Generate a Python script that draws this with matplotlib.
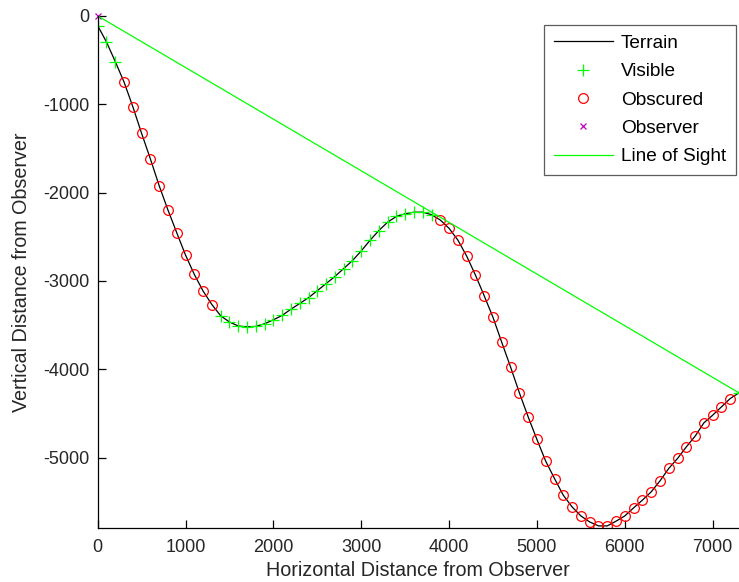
import numpy as np
import matplotlib
matplotlib.use('Agg')
import matplotlib.pyplot as plt

# Terrain profile sampled every 100 m from the observer
distance = list(range(0, 7400, 100))
elevation = [
    -110, -296, -517, -749, -1028, -1330, -1620, -1923, -2198, -2455,
    -2708, -2927, -3115, -3268, -3395, -3465, -3510, -3520, -3515, -3485,
    -3440, -3390, -3320, -3255, -3190, -3110, -3030, -2950, -2860, -2770,
    -2660, -2540, -2430, -2335, -2270, -2240, -2222, -2222, -2250, -2311,
    -2405, -2538, -2719, -2934, -3169, -3413, -3697, -3975, -4267, -4539,
    -4795, -5041, -5237, -5426, -5558, -5660, -5728, -5773, -5773, -5720,
    -5660, -5569, -5482, -5388, -5264, -5123, -5010, -4879, -4758, -4607,
    -4520, -4426, -4331, -4267,
]

# 1 = visible from the observer, 0 = obscured
visible = ([1, 1, 1] + [0] * 11 + [1] * 25 + [0] * 34 + [1])

observer = (0, 0)
target_index = len(distance) - 1

x_ticks = [0, 1000, 2000, 3000, 4000, 5000, 6000, 7000]
y_ticks = [0, -1000, -2000, -3000, -4000, -5000]


def make_plot():
    plt.rcParams['font.family'] = ['Liberation Sans', 'DejaVu Sans']
    plt.rcParams['axes.unicode_minus'] = False

    x = np.array(distance)
    y = np.array(elevation)
    vis = np.array(visible, dtype=bool)

    fig = plt.figure(figsize=(7.39, 5.82), dpi=100)
    ax = fig.add_axes([0.1322, 0.0923, 0.8678, 0.8804])

    ax.plot(x, y, color='k', lw=0.9, label='Terrain')
    ax.plot(x[vis], y[vis], ls='none', marker='+', color=(0, 1, 0),
            ms=8, mew=0.9, label='Visible', clip_on=True)
    ax.plot(x[~vis], y[~vis], ls='none', marker='o', mfc='none', mec='r',
            ms=7, mew=0.9, label='Obscured')
    ax.plot([observer[0]], [observer[1]], ls='none', marker='x', color='m',
            ms=5, mew=0.9, label='Observer', clip_on=False)
    ax.plot([observer[0], x[target_index]], [observer[1], y[target_index]],
            color=(0, 1, 0), lw=0.9, label='Line of Sight')

    ax.set_xlim(0, 7300)
    ax.set_ylim(-5800, 0)
    ax.set_xticks(x_ticks)
    ax.set_yticks(y_ticks)

    for side in ['top', 'right']:
        ax.spines[side].set_visible(False)
    for side in ['left', 'bottom']:
        ax.spines[side].set_linewidth(0.9)
    ax.tick_params(direction='in', length=6, width=0.9, labelsize=13,
                   colors='k', labelcolor='#262626')
    ax.tick_params(axis='y', pad=6)
    ax.tick_params(axis='x', pad=7.5)

    ax.set_xlabel('Horizontal Distance from Observer', fontsize=14.2,
                  color='#262626', labelpad=4)
    ax.set_ylabel('Vertical Distance from Observer', fontsize=14.2,
                  color='#262626', labelpad=9)

    leg = ax.legend(loc='upper left', bbox_to_anchor=(544 / 739, 1 - 25 / 582),
                    bbox_transform=fig.transFigure, borderaxespad=0,
                    fontsize=13.7, frameon=True, fancybox=False,
                    handlelength=3.1, handletextpad=0.45, labelspacing=0.58,
                    borderpad=0.5)
    leg.get_frame().set_edgecolor('#333333')
    leg.get_frame().set_linewidth(0.9)

    fig.savefig('out.png', dpi=100)


make_plot()
